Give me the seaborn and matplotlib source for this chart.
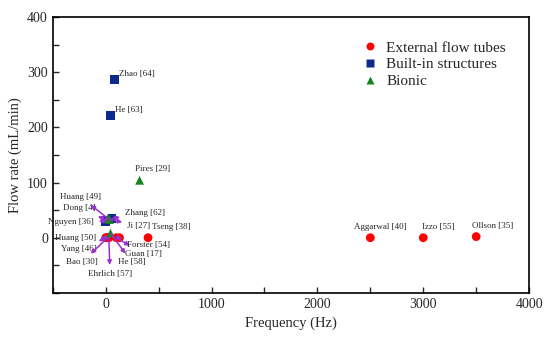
import pandas as pd
import seaborn as sns
import matplotlib.pyplot as plt
from matplotlib.ticker import MultipleLocator

# Data
names = ["Aggarwal [40]", "Izzo [55]", "Ollson [35]", "Tseng [38]",
         "Huang [50]", "Yang [46]", "Bao [30]", "Ehrlich [57]", "Guan [17]", "Forster [54]",
         "Zhao [64]", "He [63]", "Zhang [62]", "Nguyen [36]", "Dong [4]",
         "Pires [29]", "Huang [49]", "Ji [27]", "He [58]"]
freq = [2500, 3000, 3500, 400,
        0, 10, 20, 30, 100, 130,
        85, 47, 60, 0, 10,
        320, 20, 35, 45]
flow = [0, 0, 2, 0,
        0, 0, 0, 0, 0, 0,
        287, 222, 35, 30, 32,
        104, 35, 33, 8]
kind = (["External flow tubes"] * 10 + ["Built-in structures"] * 5 + ["Bionic"] * 4)

df = pd.DataFrame({"Frequency": freq, "Flow": flow, "Type": kind, "Name": names})

# labels placed with arrows for the crowded area near the origin
cluster_text = {
    "Huang [49]": (-240, 74, "center"),
    "Dong [4]": (-250, 53, "center"),
    "Nguyen [36]": (-110, 29, "right"),
    "Zhang [62]": (180, 44, "left"),
    "Ji [27]": (200, 22, "left"),
    "Huang [50]": (-90, 0, "right"),
    "Yang [46]": (-85, -20, "right"),
    "Bao [30]": (-75, -44, "right"),
    "Ehrlich [57]": (40, -65, "center"),
    "He [58]": (115, -44, "left"),
    "Guan [17]": (180, -29, "left"),
    "Forster [54]": (200, -13, "left"),
}
# plain labels next to isolated points (offset in points, alignment)
plain_offset = {
    "Aggarwal [40]": (7, 5, "center"), "Izzo [55]": (-1, 5, "left"),
    "Ollson [35]": (-3, 5, "left"), "Tseng [38]": (3, 5, "left"),
    "Zhao [64]": (3, 1, "left"), "He [63]": (3, 1, "left"), "Pires [29]": (-3, 5, "left"),
}

sns.set_style("ticks")
plt.rcParams["font.family"] = ["Liberation Serif", "DejaVu Serif"]

palette = {"External flow tubes": "#ff0000", "Built-in structures": "#0b2a8a", "Bionic": "#15841f"}
markers = {"External flow tubes": "o", "Built-in structures": "s", "Bionic": "^"}

fig = plt.figure(figsize=(5.5, 3.39), dpi=100)
ax = fig.add_axes([0.096, 0.136, 0.866, 0.814])

sns.scatterplot(data=df, x="Frequency", y="Flow", hue="Type", style="Type",
                palette=palette, markers=markers, s=40, edgecolor="none", ax=ax,
                hue_order=list(palette), style_order=list(palette))

for n, x, y in zip(names, freq, flow):
    if n in cluster_text:
        tx, ty, ha = cluster_text[n]
        ax.annotate(n, xy=(x, y), xytext=(tx, ty), ha=ha, va="center", fontsize=6.5,
                    arrowprops=dict(arrowstyle="<|-", color="#9b30d0", lw=1.1,
                                    mutation_scale=6, shrinkA=1, shrinkB=0))
    else:
        dx, dy, ha = plain_offset[n]
        ax.annotate(n, xy=(x, y), xytext=(dx, dy), textcoords="offset points",
                    ha=ha, va="bottom", fontsize=6.5)

ax.set_xlim(-500, 4000)
ax.set_ylim(-100, 400)
ax.set_xticks([0, 1000, 2000, 3000, 4000])
ax.set_yticks([0, 100, 200, 300, 400])
ax.xaxis.set_minor_locator(MultipleLocator(500))
ax.yaxis.set_minor_locator(MultipleLocator(50))
ax.tick_params(which="both", direction="in", labelsize=10, width=1, length=4)
for s in ax.spines.values():
    s.set_linewidth(1.2)
    s.set_color("black")

ax.set_xlabel("Frequency (Hz)", fontsize=10.5)
ax.set_ylabel("Flow rate (mL/min)", fontsize=10.5)

ax.legend(loc="upper left", bbox_to_anchor=(0.617, 0.963), frameon=False, fontsize=11,
          handletextpad=0.5, labelspacing=0.2, markerscale=0.9, handlelength=1.2)

fig.savefig("out.png", dpi=100)
